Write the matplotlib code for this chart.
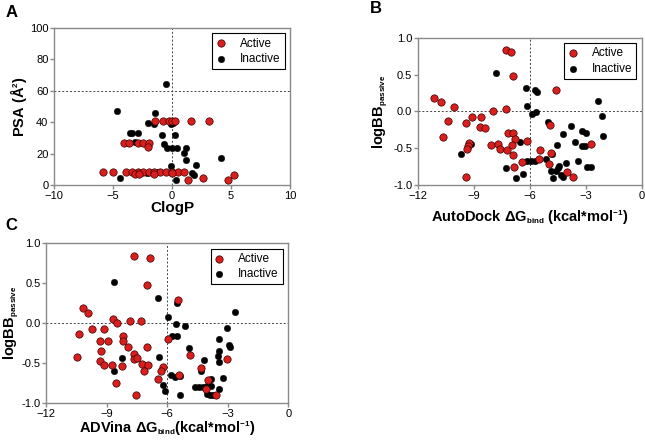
import matplotlib
matplotlib.use('Agg')
import matplotlib.pyplot as plt
import matplotlib.ticker as mtick
import matplotlib._mathtext as mathtext_mod
import numpy as np

plt.rcParams['font.family'] = ['Liberation Sans', 'DejaVu Sans']
plt.rcParams['mathtext.fontset'] = 'custom'
plt.rcParams['mathtext.rm'] = 'Liberation Sans'
plt.rcParams['mathtext.bf'] = 'Liberation Sans:bold'
plt.rcParams['mathtext.it'] = 'Liberation Sans:italic'
# subscripts in the reference are quite small
mathtext_mod.SHRINK_FACTOR = 0.55

RED = '#d91e1e'
GREY = '#8a8a8a'

# ---- panel A: ClogP vs PSA
a_act_x = [-1.44, -0.73, -0.23, 0.0, 0.23, 1.61, 3.1,
           -4.07, -3.62, -2.91, -2.43, -1.95, -2.06,
           -5.82, -4.97, -3.93, -3.42, -2.91, -2.43, -1.95, -1.5, -0.99, -0.51, 0.0, 0.51, 1.02,
           -3.16, -2.77, -1.5, 0.0,
           1.33, 2.66, 4.77, 5.22]
a_act_y = [41, 41, 41, 41, 41, 41, 41,
           27, 27, 27, 27, 27, 24,
           8.5, 8.5, 8.5, 8.5, 8.5, 8.5, 8.5, 8.5, 8.5, 8.5, 8.5, 8.5, 8.5,
           7, 7, 7, 7.4,
           3.2, 4.2, 3.2, 6.4]
a_ina_x = [-0.54, -4.63, -1.41, -2.06, -1.5, -3.6, -3.36, -2.9, -0.85, 0.28, -0.1, 0.05,
           -0.68, -0.45, 0.0, 0.4, 1.19, 1.05, 1.16, 4.12, 2.03, -0.11, 1.69, 1.84,
           0.31, -4.4, -3.16, -2.15, -2.7, -1.2]
a_ina_y = [64.3, 47.3, 46.1, 39.7, 38.9, 32.9, 33.3, 33.3, 32.0, 32.0, 38.6, 39.5,
           26.1, 23.8, 23.8, 23.8, 23.8, 20.2, 15.9, 17.2, 12.7, 12.3, 7.4, 6.6,
           3.2, 4.2, 27.2, 7.6, 8.0, 8.2]

# ---- panel B: AutoDock dG vs logBB
b_act_x = [-7.29, -7.0, -6.91, -4.59, -11.1, -10.73, -10.04, -10.38, -10.66, -9.11,
           -9.41, -8.59, -7.98, -7.29, -8.66, -8.38, -9.27, -9.3, -9.38, -9.41,
           -8.09, -7.71, -7.57, -7.21, -7.14, -6.89, -6.8, -6.95, -6.91, -6.82,
           -6.13, -6.41, -5.46, -5.5, -4.89, -4.86, -4.95, -4.02, -3.68, -2.73]
b_act_y = [0.83, 0.81, 0.475, 0.29, 0.185, 0.127, 0.06, -0.13, -0.35, -0.07,
           -0.155, -0.07, 0.0, 0.027, -0.21, -0.22, -0.43, -0.47, -0.51, -0.89,
           -0.45, -0.44, -0.51, -0.52, -0.3, -0.3, -0.38, -0.45, -0.59, -0.75,
           -0.4, -0.69, -0.53, -0.64, -0.19, -0.57, -0.71, -0.82, -0.89, -0.44]
b_ina_x = [-7.82, -6.21, -5.71, -5.63, -6.16, -5.86, -5.68, -2.36, -2.11, -2.04,
           -5.02, -3.79, -4.2, -3.2, -2.95, -3.54, -4.52, -3.21, -3.02, -6.52,
           -9.68, -9.16, -7.27, -6.71, -6.38, -6.14, -5.93, -5.71, -5.11, -4.79,
           -4.86, -4.73, -4.59, -4.5, -4.41, -4.3, -4.23, -4.07, -3.38, -2.91, -2.73]
b_ina_y = [0.52, 0.32, 0.285, 0.26, 0.077, -0.03, -0.01, 0.14, -0.063, -0.34,
           -0.15, -0.2, -0.31, -0.27, -0.29, -0.41, -0.45, -0.47, -0.47, -0.41,
           -0.58, -0.44, -0.77, -0.9, -0.85, -0.67, -0.67, -0.68, -0.64, -0.58,
           -0.81, -0.9, -0.81, -0.77, -0.74, -0.86, -0.89, -0.7, -0.68, -0.76, -0.76]

# ---- panel C: ADVina dG vs logBB
c_act_x = [-7.66, -6.83, -6.98, -5.48, -10.17, -9.9, -10.35, -9.74, -10.48, -8.7,
           -8.47, -9.11, -9.32, -8.94, -9.29, -9.31, -9.14, -8.75, -8.53, -8.17,
           -8.2, -8.25, -7.95, -7.84, -7.28, -7.66, -7.62, -7.48, -7.26, -7.13,
           -7.0, -6.95, -7.52, -6.22, -6.29, -6.45, -5.96, -5.41, -4.88, -4.32,
           -3.98, -4.06, -3.56, -3.02]
c_act_y = [0.84, 0.82, 0.48, 0.29, 0.19, 0.125, -0.13, -0.07, -0.425, 0.06,
           0.0, -0.07, -0.22, -0.22, -0.35, -0.475, -0.52, -0.52, -0.75, -0.16,
           -0.225, -0.53, -0.3, 0.025, 0.025, -0.38, -0.45, -0.43, -0.51, -0.6,
           -0.3, -0.52, -0.89, -0.55, -0.59, -0.7, -0.2, -0.64, -0.4, -0.56,
           -0.71, -0.825, -0.9, -0.45]
c_ina_x = [-8.65, -6.47, -5.53, -5.97, -5.58, -5.1, -5.76, -5.5, -2.62, -3.04,
           -2.94, -2.89, -3.42, -4.9, -4.17, -3.48, -3.45, -3.43, -3.25, -3.45,
           -8.23, -8.65, -6.4, -6.22, -6.12, -5.81, -5.63, -5.36, -5.38, -4.62,
           -4.41, -4.22, -4.32, -4.04, -3.91, -3.83, -3.81, -4.04, -3.87, -3.71]
c_ina_y = [0.52, 0.32, 0.26, 0.075, -0.01, -0.03, -0.16, -0.16, 0.14, -0.06,
           -0.27, -0.3, -0.2, -0.31, -0.46, -0.41, -0.48, -0.35, -0.68, -0.82,
           -0.43, -0.59, -0.42, -0.77, -0.85, -0.64, -0.67, -0.66, -0.9, -0.79,
           -0.79, -0.8, -0.6, -0.78, -0.71, -0.7, -0.78, -0.88, -0.9, -0.9]


def style_ax(ax):
    for sp in ax.spines.values():
        sp.set_color(GREY)
        sp.set_linewidth(1.0)
    ax.tick_params(direction='out', length=3, width=1, color=GREY,
                   labelsize=8, pad=1)


def scatter_pair(ax, ax_, ay_, ix_, iy_):
    ax.scatter(ax_, ay_, s=28, c=RED, edgecolors='#3a0000', linewidths=0.5,
               label='Active', zorder=3)
    ax.scatter(ix_, iy_, s=22, c='black', edgecolors='black', linewidths=0.3,
               label='Inactive', zorder=2)
    leg = ax.legend(loc='upper right', fancybox=False, edgecolor='black', framealpha=1,
                    fontsize=8.5, handlelength=0.8, handletextpad=1.2, borderpad=0.35,
                    labelspacing=0.3, borderaxespad=0.45)
    leg.get_frame().set_linewidth(0.8)


fig = plt.figure(figsize=(6.45, 4.46), dpi=100)

axA = fig.add_axes([0.0837, 0.585, 0.366, 0.352])
scatter_pair(axA, a_act_x, a_act_y, a_ina_x, a_ina_y)
axA.axvline(0, color='#444444', ls=(0, (2, 2)), lw=0.7, zorder=1)
axA.axhline(60, color='#444444', ls=(0, (2, 2)), lw=0.7, zorder=1)
axA.set_xlim(-10, 10)
axA.set_ylim(0, 100)
axA.set_xticks([-10, -5, 0, 5, 10])
axA.set_yticks([0, 20, 40, 60, 80, 100])
axA.set_xlabel('ClogP', fontsize=11, fontweight='bold', labelpad=0)
axA.set_ylabel(r'PSA (Å$^\mathbf{2}$)', fontsize=10.5, fontweight='bold', labelpad=1)
style_ax(axA)

axB = fig.add_axes([0.6476, 0.5852, 0.347, 0.330])
scatter_pair(axB, b_act_x, b_act_y, b_ina_x, b_ina_y)
axB.axvline(-6, color='#444444', ls=(0, (2, 2)), lw=0.7, zorder=1)
axB.axhline(0, color='#444444', ls=(0, (2, 2)), lw=0.7, zorder=1)
axB.set_xlim(-12, 0)
axB.set_ylim(-1, 1)
axB.set_xticks([-12, -9, -6, -3, 0])
axB.set_yticks([-1.0, -0.5, 0.0, 0.5, 1.0])
axB.yaxis.set_major_formatter(mtick.FormatStrFormatter('%.1f'))
axB.set_xlabel(r'AutoDock ΔG$_\mathbf{bind}$ (kcal*mol$^\mathbf{−1}$)',
               fontsize=10.5, fontweight='bold', labelpad=6)
axB.set_ylabel(r'logBB$_\mathbf{passive}$', fontsize=10.5, fontweight='bold', labelpad=2)
style_ax(axB)

axC = fig.add_axes([0.0713, 0.0957, 0.3757, 0.3587])
scatter_pair(axC, c_act_x, c_act_y, c_ina_x, c_ina_y)
axC.axvline(-6, color='#444444', ls=(0, (2, 2)), lw=0.7, zorder=1)
axC.axhline(0, color='#444444', ls=(0, (2, 2)), lw=0.7, zorder=1)
axC.set_xlim(-12, 0)
axC.set_ylim(-1, 1)
axC.set_xticks([-12, -9, -6, -3, 0])
axC.set_yticks([-1.0, -0.5, 0.0, 0.5, 1.0])
axC.yaxis.set_major_formatter(mtick.FormatStrFormatter('%.1f'))
axC.set_xlabel(r'ADVina ΔG$_\mathbf{bind}$(kcal*mol$^\mathbf{−1}$)',
               fontsize=10.5, fontweight='bold', labelpad=1)
axC.set_ylabel(r'logBB$_\mathbf{passive}$', fontsize=10.5, fontweight='bold', labelpad=0)
style_ax(axC)

fig.text(0.008, 0.972, 'A', fontsize=12, fontweight='bold', va='center')
fig.text(0.573, 0.982, 'B', fontsize=12, fontweight='bold', va='center')
fig.text(0.008, 0.495, 'C', fontsize=12, fontweight='bold', va='center')

fig.savefig('out.png', dpi=100)
